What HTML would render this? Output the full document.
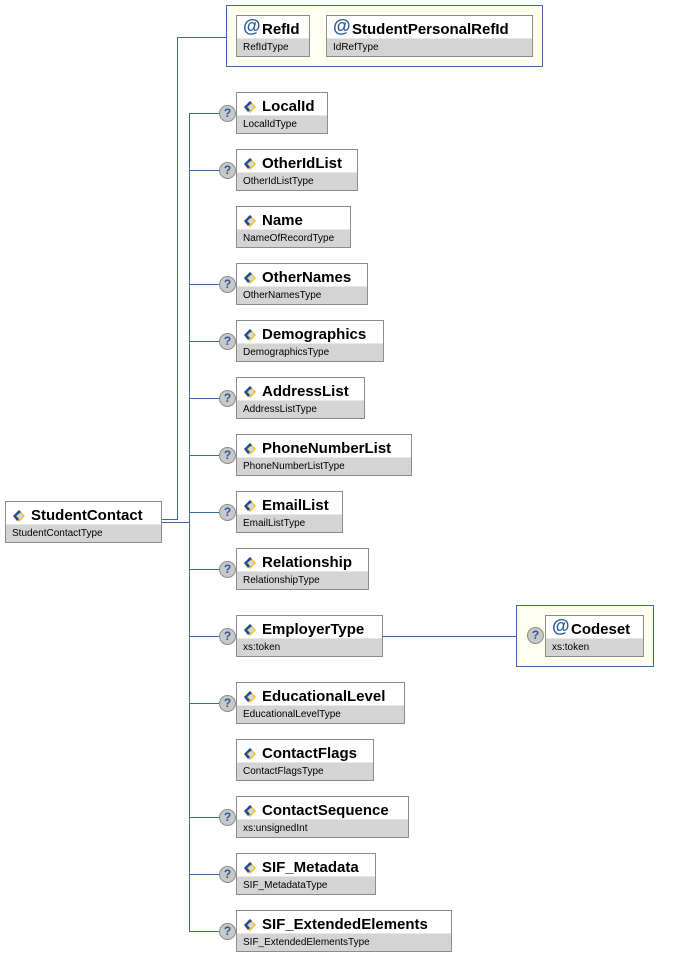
<!DOCTYPE html>
<html><head><meta charset="utf-8"><style>
body{margin:0;width:676px;height:957px;background:#fff;position:relative;overflow:hidden;font-family:"Liberation Sans",Arial,sans-serif}
.b{position:absolute;border:1px solid #8c8c8c;background:#d4d4d4;height:42px;box-sizing:border-box}
.b .t{position:absolute;left:0;right:0;top:0;height:23px;background:#fff;border-bottom:1px solid #e8e8e8;font-weight:bold;font-size:15px;line-height:16px;padding-top:6px;box-sizing:border-box;padding-left:25px;white-space:nowrap;color:#000}
.b .s{position:absolute;left:6px;top:26px;font-size:10px;line-height:12px;color:#000;white-space:nowrap}
.b svg{position:absolute;left:6px;top:7px}
.b .at{position:absolute;left:6px;top:1px;color:#2a5a9a;font-size:18px;font-weight:bold;line-height:18px}
.h{position:absolute;height:1px;background:#3a6aa0}
.v{position:absolute;width:1px;background:#3a6aa0}
.q{position:absolute;width:15px;height:15px;border-radius:50%;background:#c8c8c8;border:1px solid #8c8c8c;color:#2a5a9a;font-weight:bold;font-size:12px;line-height:15px;text-align:center}
.g{position:absolute;border:1px solid #3a6aa0;background:#fffff0;box-sizing:border-box}
</style></head><body>
<svg width="0" height="0" style="position:absolute"><defs><g id="ic"><path d="M1 7 L7 1 L13 7 L7 13 Z" fill="#f0c020"/><path d="M1 7 L7 1 L9 3 L4 7 L7 10 L5 12 Z" fill="#1a4a9a"/><circle cx="8" cy="7" r="2.5" fill="#d0d8f0"/></g></defs></svg>

<div class="h" style="left:161px;top:519px;width:17px"></div>
<div class="v" style="left:177px;top:37px;height:483px"></div>
<div class="h" style="left:177px;top:37px;width:49px"></div>
<div class="h" style="left:161px;top:522px;width:29px"></div>
<div class="v" style="left:189px;top:113px;height:819px"></div>

<div class="b" style="left:5px;top:501px;width:157px"><div class="t"><svg width="14" height="14"><use href="#ic"/></svg>StudentContact</div><div class="s">StudentContactType</div></div>

<div class="g" style="left:226px;top:5px;width:317px;height:62px"></div>
<div class="b" style="left:236px;top:15px;width:74px"><div class="t"><span class="at">@</span>RefId</div><div class="s">RefIdType</div></div>
<div class="b" style="left:326px;top:15px;width:207px"><div class="t"><span class="at">@</span>StudentPersonalRefId</div><div class="s">IdRefType</div></div>

<div class="h" style="left:189px;top:113px;width:30px"></div><div class="q" style="left:219px;top:105px">?</div>
<div class="b" style="left:236px;top:92px;width:92px"><div class="t"><svg width="14" height="14"><use href="#ic"/></svg>LocalId</div><div class="s">LocalIdType</div></div>

<div class="h" style="left:189px;top:170px;width:30px"></div><div class="q" style="left:219px;top:162px">?</div>
<div class="b" style="left:236px;top:149px;width:122px"><div class="t"><svg width="14" height="14"><use href="#ic"/></svg>OtherIdList</div><div class="s">OtherIdListType</div></div>

<div class="b" style="left:236px;top:206px;width:115px"><div class="t"><svg width="14" height="14"><use href="#ic"/></svg>Name</div><div class="s">NameOfRecordType</div></div>

<div class="h" style="left:189px;top:284px;width:30px"></div><div class="q" style="left:219px;top:276px">?</div>
<div class="b" style="left:236px;top:263px;width:132px"><div class="t"><svg width="14" height="14"><use href="#ic"/></svg>OtherNames</div><div class="s">OtherNamesType</div></div>

<div class="h" style="left:189px;top:341px;width:30px"></div><div class="q" style="left:219px;top:333px">?</div>
<div class="b" style="left:236px;top:320px;width:148px"><div class="t"><svg width="14" height="14"><use href="#ic"/></svg>Demographics</div><div class="s">DemographicsType</div></div>

<div class="h" style="left:189px;top:398px;width:30px"></div><div class="q" style="left:219px;top:390px">?</div>
<div class="b" style="left:236px;top:377px;width:129px"><div class="t"><svg width="14" height="14"><use href="#ic"/></svg>AddressList</div><div class="s">AddressListType</div></div>

<div class="h" style="left:189px;top:455px;width:30px"></div><div class="q" style="left:219px;top:447px">?</div>
<div class="b" style="left:236px;top:434px;width:176px"><div class="t"><svg width="14" height="14"><use href="#ic"/></svg>PhoneNumberList</div><div class="s">PhoneNumberListType</div></div>

<div class="h" style="left:189px;top:512px;width:30px"></div><div class="q" style="left:219px;top:504px">?</div>
<div class="b" style="left:236px;top:491px;width:107px"><div class="t"><svg width="14" height="14"><use href="#ic"/></svg>EmailList</div><div class="s">EmailListType</div></div>

<div class="h" style="left:189px;top:569px;width:30px"></div><div class="q" style="left:219px;top:561px">?</div>
<div class="b" style="left:236px;top:548px;width:133px"><div class="t"><svg width="14" height="14"><use href="#ic"/></svg>Relationship</div><div class="s">RelationshipType</div></div>

<div class="h" style="left:189px;top:636px;width:30px"></div><div class="q" style="left:219px;top:628px">?</div>
<div class="b" style="left:236px;top:615px;width:147px"><div class="t"><svg width="14" height="14"><use href="#ic"/></svg>EmployerType</div><div class="s">xs:token</div></div>
<div class="h" style="left:382px;top:636px;width:134px"></div>
<div class="g" style="left:516px;top:605px;width:138px;height:62px"></div>
<div class="q" style="left:527px;top:627px">?</div>
<div class="b" style="left:545px;top:615px;width:99px"><div class="t"><span class="at">@</span>Codeset</div><div class="s">xs:token</div></div>

<div class="h" style="left:189px;top:703px;width:30px"></div><div class="q" style="left:219px;top:695px">?</div>
<div class="b" style="left:236px;top:682px;width:169px"><div class="t"><svg width="14" height="14"><use href="#ic"/></svg>EducationalLevel</div><div class="s">EducationalLevelType</div></div>

<div class="b" style="left:236px;top:739px;width:138px"><div class="t"><svg width="14" height="14"><use href="#ic"/></svg>ContactFlags</div><div class="s">ContactFlagsType</div></div>

<div class="h" style="left:189px;top:817px;width:30px"></div><div class="q" style="left:219px;top:809px">?</div>
<div class="b" style="left:236px;top:796px;width:173px"><div class="t"><svg width="14" height="14"><use href="#ic"/></svg>ContactSequence</div><div class="s">xs:unsignedInt</div></div>

<div class="h" style="left:189px;top:874px;width:30px"></div><div class="q" style="left:219px;top:866px">?</div>
<div class="b" style="left:236px;top:853px;width:140px"><div class="t"><svg width="14" height="14"><use href="#ic"/></svg>SIF_Metadata</div><div class="s">SIF_MetadataType</div></div>

<div class="h" style="left:189px;top:931px;width:30px"></div><div class="q" style="left:219px;top:923px">?</div>
<div class="b" style="left:236px;top:910px;width:216px"><div class="t"><svg width="14" height="14"><use href="#ic"/></svg>SIF_ExtendedElements</div><div class="s">SIF_ExtendedElementsType</div></div>
</body></html>
